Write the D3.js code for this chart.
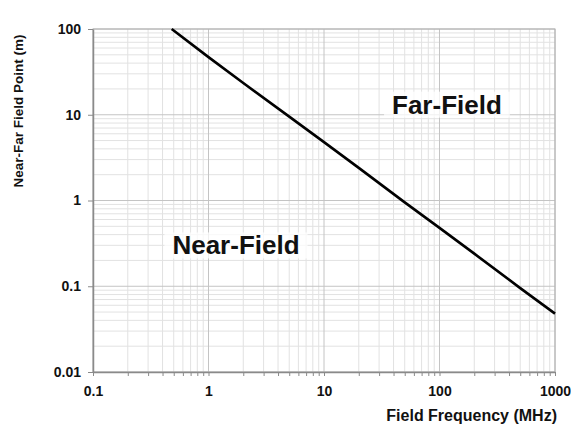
<!DOCTYPE html>
<html>
<head>
<meta charset="utf-8">
<script src="https://cdn.jsdelivr.net/npm/d3@7"></script>
<style>
  body { margin: 0; background: #fff; }
  text { font-family: Arial, "Liberation Sans", sans-serif; font-weight: bold; fill: #111; }
</style>
</head>
<body>
<div id="chart"></div>
<script>
// values
const frequency = [0.48, 1, 2, 5, 10, 20, 50, 100, 200, 500, 1000];
const fieldPoint = [100, 47, 23.5, 9.5, 4.8, 2.4, 0.95, 0.48, 0.24, 0.095, 0.048];
const xTicks = [0.1, 1, 10, 100, 1000];
const yTicks = [0.01, 0.1, 1, 10, 100];
const regionLabels = [
    { text: 'Far-Field', f: 116, v: 10.3 },
    { text: 'Near-Field', f: 1.73, v: 0.235 }
];

const width = 571, height = 427;
const margin = { top: 29, right: 16, bottom: 55, left: 93 };
const graphWidth = width - margin.left - margin.right;
const graphHeight = height - margin.top - margin.bottom;

const svg = d3.select('#chart')
    .append('svg')
    .attr('width', width)
    .attr('height', height);

const graph = svg.append('g')
    .attr('transform', `translate(${margin.left}, ${margin.top})`);

const x = d3.scaleLog().domain([0.1, 1000]).range([0, graphWidth]);
const y = d3.scaleLog().domain([0.01, 100]).range([graphHeight, 0]);

// minor values for each decade
const minorX = [];
for (let d = 0.1; d < 1000; d *= 10) {
    for (let k = 2; k <= 9; k++) minorX.push(+(d * k).toPrecision(3));
}
const minorY = [];
for (let d = 0.01; d < 100; d *= 10) {
    for (let k = 2; k <= 9; k++) minorY.push(+(d * k).toPrecision(3));
}

// grid
graph.append('g').selectAll('line')
    .data(minorX).enter().append('line')
    .attr('x1', d => x(d)).attr('x2', d => x(d))
    .attr('y1', 0).attr('y2', graphHeight)
    .attr('stroke', '#e2e2e2').attr('stroke-width', 1);
graph.append('g').selectAll('line')
    .data(minorY).enter().append('line')
    .attr('y1', d => y(d)).attr('y2', d => y(d))
    .attr('x1', 0).attr('x2', graphWidth)
    .attr('stroke', '#e2e2e2').attr('stroke-width', 1);
graph.append('g').selectAll('line')
    .data(xTicks).enter().append('line')
    .attr('x1', d => x(d)).attr('x2', d => x(d))
    .attr('y1', 0).attr('y2', graphHeight)
    .attr('stroke', '#c4c4c4').attr('stroke-width', 1);
graph.append('g').selectAll('line')
    .data(yTicks).enter().append('line')
    .attr('y1', d => y(d)).attr('y2', d => y(d))
    .attr('x1', 0).attr('x2', graphWidth)
    .attr('stroke', '#c4c4c4').attr('stroke-width', 1);

// white boxes behind the region labels
const labelGroup = graph.append('g');

// border
graph.append('rect')
    .attr('width', graphWidth).attr('height', graphHeight)
    .attr('fill', 'none').attr('stroke', '#b0b0b0').attr('stroke-width', 1);

// axes
const xAxis = d3.axisBottom(x)
    .tickValues(xTicks.concat(minorX))
    .tickFormat(d => xTicks.includes(d) ? String(d) : '')
    .tickSizeInner(4).tickSizeOuter(0).tickPadding(8);
const xAxisGroup = graph.append('g')
    .attr('transform', `translate(0, ${graphHeight})`)
    .call(xAxis);

const yAxis = d3.axisLeft(y)
    .tickValues(yTicks)
    .tickFormat(d => String(d))
    .tickSizeInner(5).tickSizeOuter(0).tickPadding(7);
const yAxisGroup = graph.append('g').call(yAxis);

[xAxisGroup, yAxisGroup].forEach(g => {
    g.select('.domain').attr('stroke', '#8a8a8a').attr('stroke-width', 1.5);
    g.selectAll('.tick line').attr('stroke', '#8a8a8a');
    g.selectAll('.tick text')
        .attr('font-size', '14px')
        .attr('font-family', 'Arial, "Liberation Sans", sans-serif')
        .attr('font-weight', 'bold')
        .attr('fill', '#111');
});
xAxisGroup.selectAll('.tick text').attr('dy', '0.85em');

// curve
const line = d3.line()
    .x((d, i) => x(frequency[i]))
    .y(d => y(d));
graph.append('path')
    .datum(fieldPoint)
    .attr('d', line)
    .attr('fill', 'none')
    .attr('stroke', '#000')
    .attr('stroke-width', 2.6);

// region labels
regionLabels.forEach(l => {
    const t = labelGroup.append('text')
        .attr('x', x(l.f))
        .attr('y', y(l.v))
        .attr('text-anchor', 'middle')
        .attr('font-size', '26px')
        .text(l.text);
    const b = t.node().getBBox();
    labelGroup.insert('rect', 'text')
        .attr('x', b.x - 8).attr('y', b.y + 2)
        .attr('width', b.width + 16).attr('height', b.height - 4)
        .attr('fill', '#fff').attr('opacity', 0.75);
});

// axis titles
svg.append('text')
    .attr('x', margin.left + graphWidth + 2)
    .attr('y', 421)
    .attr('text-anchor', 'end')
    .attr('font-size', '16px')
    .text('Field Frequency (MHz)');

svg.append('text')
    .attr('transform', 'rotate(-90)')
    .attr('x', -111)
    .attr('y', 23)
    .attr('text-anchor', 'middle')
    .attr('font-size', '13.5px')
    .text('Near-Far Field Point (m)');
</script>
</body>
</html>
